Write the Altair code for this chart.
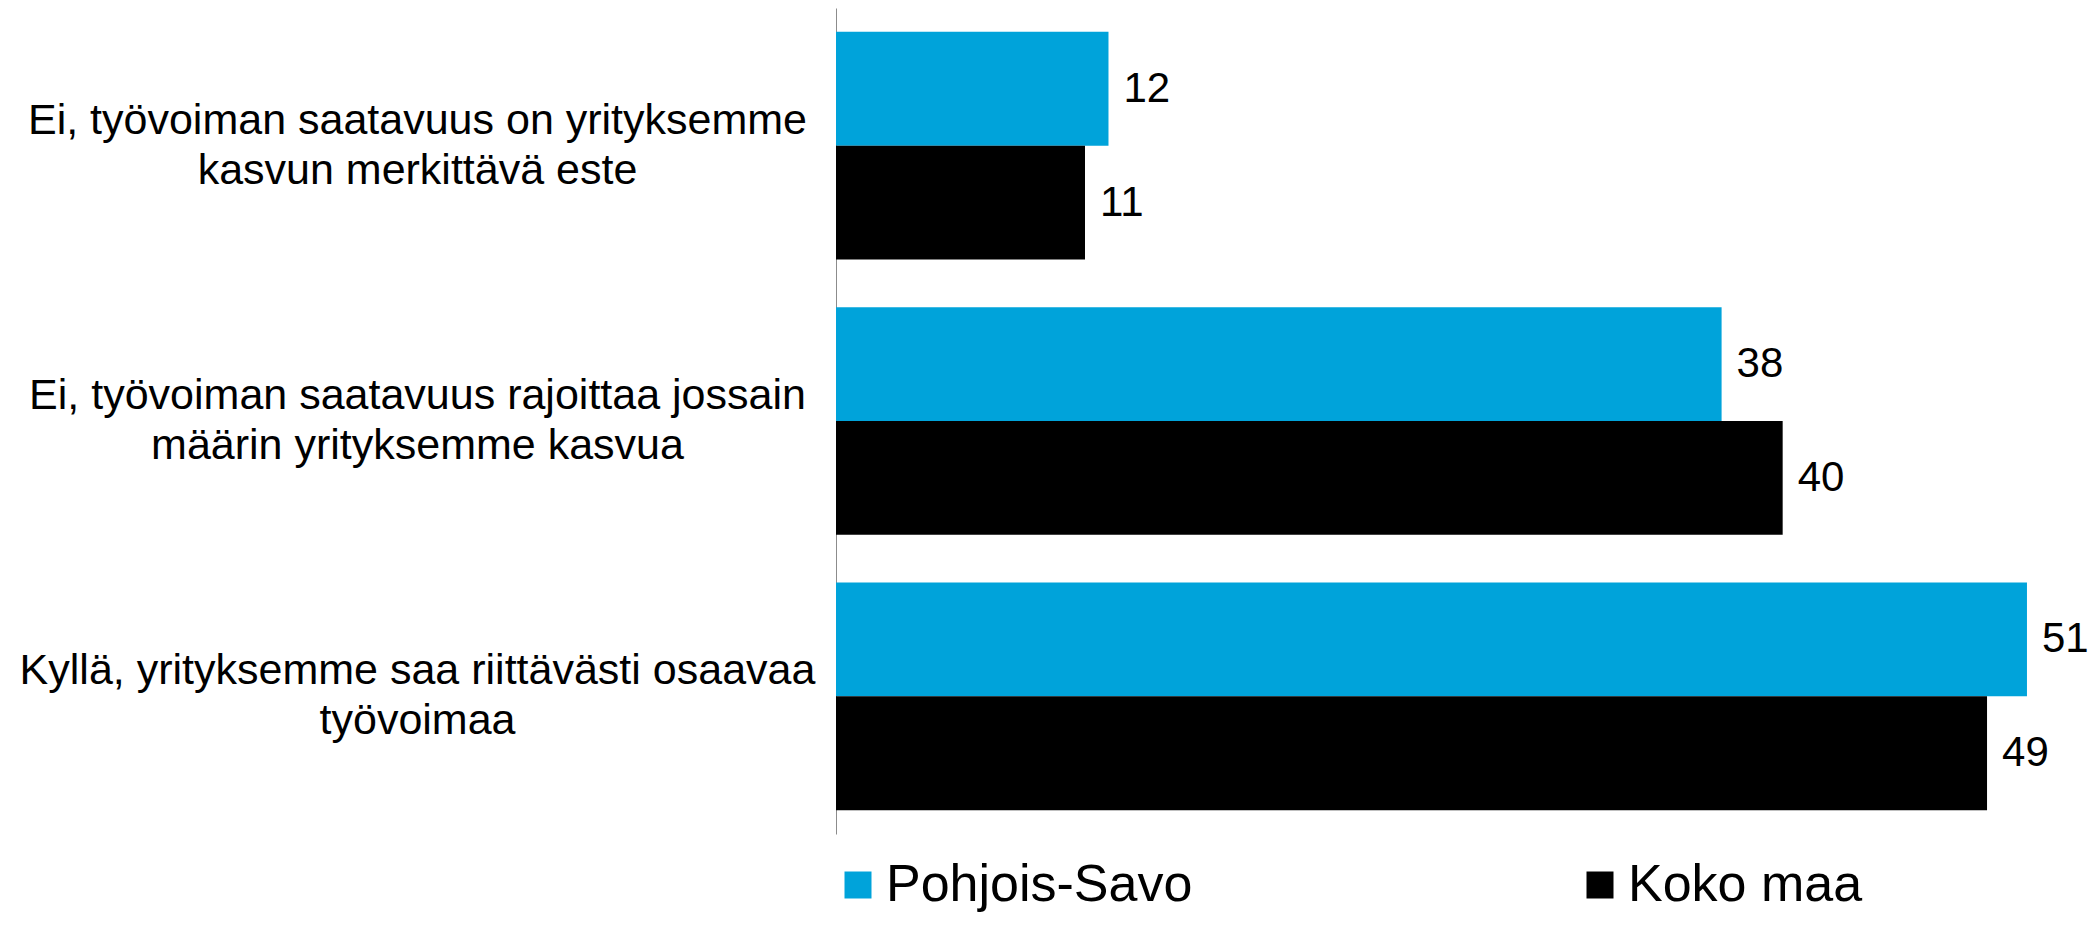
import altair as alt
import pandas as pd

categories = [
    "Ei, työvoiman saatavuus on yrityksemme|kasvun merkittävä este",
    "Ei, työvoiman saatavuus rajoittaa jossain|määrin yrityksemme kasvua",
    "Kyllä, yrityksemme saa riittävästi osaavaa|työvoimaa",
]
series = ["Pohjois-Savo", "Koko maa"]
pohjois_savo = [11.6, 37.7, 50.7]
koko_maa = [10.6, 40.3, 49.0]
colors = ["#00A3DA", "#000000"]

rows = []
for c, a, b in zip(categories, pohjois_savo, koko_maa):
    rows.append({"cat": c, "series": series[0], "value": a})
    rows.append({"cat": c, "series": series[1], "value": b})
df = pd.DataFrame(rows)

FONT = "Liberation Sans"

y = alt.Y(
    "cat:N",
    sort=categories,
    title=None,
    scale=alt.Scale(paddingInner=0.173, paddingOuter=0.0865),
    axis=alt.Axis(
        labelExpr="split(datum.label, '|')",
        labelAlign="center",
        labelBaseline="middle",
        labelPadding=419,
        labelOffset=-25,
        ticks=False,
        tickSize=0,
        domainColor="#8c8c8c",
        domainWidth=1,
        labelFontSize=43,
        labelFont=FONT,
        labelColor="#000000",
        labelLineHeight=50,
        labelLimit=1000,
        grid=False,
    ),
)
yoff = alt.YOffset(
    "series:N", sort=series, scale=alt.Scale(paddingInner=0, paddingOuter=0)
)
x = alt.X(
    "value:Q",
    scale=alt.Scale(domain=[0, 53], nice=False, zero=True),
    axis=None,
)
color = alt.Color(
    "series:N",
    sort=series,
    scale=alt.Scale(domain=series, range=colors),
    legend=alt.Legend(
        orient="none",
        legendX=-4,
        legendY=851,
        direction="horizontal",
        columns=2,
        title=None,
        symbolType="square",
        symbolSize=729,
        symbolStrokeWidth=0,
        labelFontSize=52,
        labelFont=FONT,
        labelColor="#000000",
        labelOffset=2,
        columnPadding=381,
        labelLimit=1000,
        padding=0,
    ),
)

bars = alt.Chart(df).mark_bar().encode(x=x, y=y, yOffset=yoff, color=color)
labels = alt.Chart(df).mark_text(
    align="left", baseline="middle", dx=15, font=FONT, fontSize=42, color="#000000"
).encode(x=x, y=y, yOffset=yoff, text=alt.Text("value:Q", format=".0f"))

chart = (
    alt.layer(bars, labels)
    .properties(
        width=1245,
        height=826,
        padding={"left": 828, "top": 0, "right": 8, "bottom": 82},
        autosize=alt.AutoSizeParams(type="none"),
    )
    .configure_view(stroke=None)
)

chart.save("out.html", embed_options={"renderer": "svg", "actions": False})
